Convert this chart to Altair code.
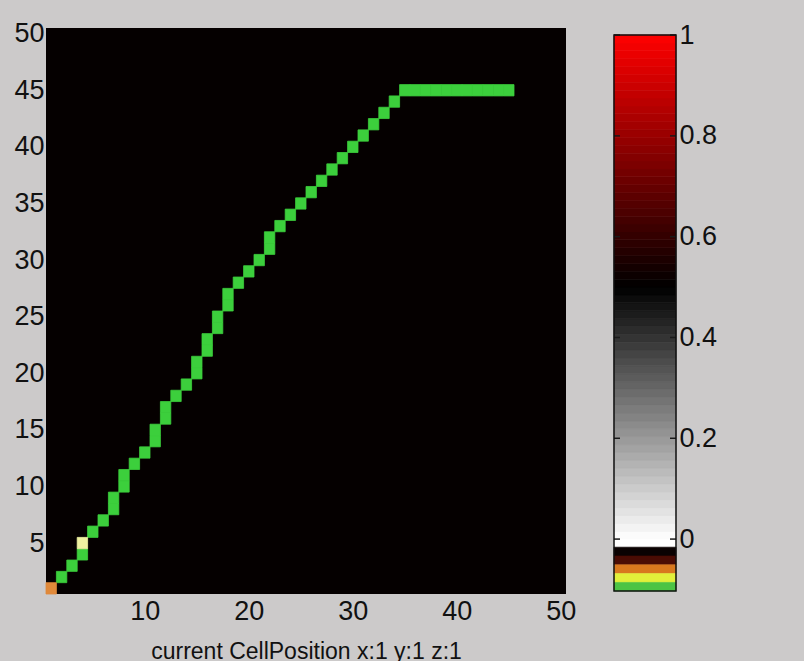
import altair as alt
import pandas as pd

# ---- data ----
path_x = [2, 3, 4, 5, 6, 7, 7, 8, 8, 9, 10, 11, 11, 12, 12, 13, 14, 15, 15, 16, 16, 17, 17,
          18, 18, 19, 20, 21, 22, 22, 23, 24, 25, 26, 27, 28, 29, 30, 31, 32, 33, 34, 35,
          36, 37, 38, 39, 40, 41, 42, 43, 44, 45]
path_y = [2, 3, 4, 6, 7, 8, 9, 10, 11, 12, 13, 14, 15, 16, 17, 18, 19, 20, 21, 22, 23, 24, 25,
          26, 27, 28, 29, 30, 31, 32, 33, 34, 35, 36, 37, 38, 39, 40, 41, 42, 43, 44, 45,
          45, 45, 45, 45, 45, 45, 45, 45, 45, 45]
start_x, start_y = [1], [1]
marker_x, marker_y = [4], [5]

x_ticks = [10, 20, 30, 40, 50]
y_ticks = [5, 10, 15, 20, 25, 30, 35, 40, 45, 50]
cb_ticks = [0, 0.2, 0.4, 0.6, 0.8, 1]

# colorbar special bands below zero
band_lo = [-0.0335, -0.051, -0.0685, -0.086, -0.103]
band_hi = [-0.016, -0.0335, -0.051, -0.0685, -0.086]
band_col = ["#0a0202", "#4a0c04", "#d8781e", "#e2f03a", "#4cc444"]

kinds = ["path", "start", "marker"]
kind_colors = ["#3ccf3c", "#e0893a", "#eef0a0"]

FONT = "Liberation Sans"
FS = 27

cells = pd.DataFrame({
    "x": path_x + start_x + marker_x,
    "y": path_y + start_y + marker_y,
    "kind": ["path"] * len(path_x) + ["start"] + ["marker"],
})

heat = alt.Chart(cells).transform_calculate(
    x0="datum.x - 0.5", x1="datum.x + 0.5", y0="datum.y - 0.5", y1="datum.y + 0.5"
).mark_rect(strokeWidth=0.8).encode(
    x=alt.X("x0:Q", scale=alt.Scale(domain=[0.5, 50.5], nice=False, zero=False),
            axis=alt.Axis(values=x_ticks, title="current CellPosition x:1 y:1 z:1",
                          ticks=False, domain=False, grid=False, labelPadding=4,
                          titlePadding=16, titleFontSize=23, labelFlush=False)),
    x2="x1:Q",
    y=alt.Y("y0:Q", scale=alt.Scale(domain=[0.5, 50.5], nice=False, zero=False),
            axis=alt.Axis(values=y_ticks, title=None, ticks=False, domain=False,
                          grid=False, labelPadding=2, labelFlush=False)),
    y2="y1:Q",
    color=alt.Color("kind:N", scale=alt.Scale(domain=kinds, range=kind_colors), legend=None),
    stroke=alt.Stroke("kind:N", scale=alt.Scale(domain=kinds, range=kind_colors), legend=None),
).properties(width=520, height=566,
             view=alt.ViewBackground(fill="#050000", strokeWidth=0))

cb_min, cb_top, cb_max = -0.103, 1.0, 1.014
ramp_scale = alt.Scale(domain=[0, 0.5, 1], range=["#ffffff", "#000000", "#ff0000"],
                       interpolate="rgb", clamp=True)
yscale = alt.Scale(domain=[cb_min, cb_max], nice=False, zero=False)

ramp = alt.Chart(alt.sequence(-0.015625, 1.0, 0.015625, as_="v")).transform_calculate(
    v2="datum.v + 0.015625", mid="datum.v + 0.0078125"
).mark_rect(strokeWidth=0.6).encode(
    y=alt.Y("v:Q", scale=yscale,
            axis=alt.Axis(orient="right", values=cb_ticks, format="~g", title=None,
                          ticks=False, domain=False, grid=False, labelPadding=3,
                          labelFlush=False)),
    y2="v2:Q",
    x=alt.value(0), x2=alt.value(62),
    color=alt.Color("mid:Q", scale=ramp_scale, legend=None),
    stroke=alt.Stroke("mid:Q", scale=ramp_scale, legend=None),
)

bands = alt.Chart(pd.DataFrame({"lo": band_lo, "hi": band_hi, "c": band_col})).mark_rect(
    strokeWidth=0.6).encode(
    y=alt.Y("lo:Q", scale=yscale), y2="hi:Q",
    x=alt.value(0), x2=alt.value(62),
    color=alt.Color("c:N", scale=None), stroke=alt.Stroke("c:N", scale=None),
)

tickdf = pd.DataFrame({"t": cb_ticks})
ticks_l = alt.Chart(tickdf).mark_rule(color="#1a1a1a", strokeWidth=1.5).encode(
    y=alt.Y("t:Q", scale=yscale), x=alt.value(0), x2=alt.value(6))
ticks_r = alt.Chart(tickdf).mark_rule(color="#1a1a1a", strokeWidth=1.5).encode(
    y=alt.Y("t:Q", scale=yscale), x=alt.value(56), x2=alt.value(62))

border = alt.Chart(pd.DataFrame({"lo": [cb_min], "hi": [cb_top]})).mark_rect(
    fill="transparent", stroke="#111111", strokeWidth=1.5).encode(
    y=alt.Y("lo:Q", scale=yscale), y2="hi:Q", x=alt.value(0), x2=alt.value(62))

cbar = alt.layer(ramp, bands, ticks_l, ticks_r, border).properties(
    width=62, height=563, view=alt.ViewBackground(strokeWidth=0))

chart = alt.hconcat(heat, cbar, spacing=37).properties(
    background="#cccaca",
    padding={"left": 13, "top": 19, "right": 87, "bottom": 0},
).configure_axis(
    labelFont=FONT, labelFontSize=FS, labelColor="#111111",
    titleFont=FONT, titleFontSize=FS, titleColor="#111111", titleFontWeight="normal",
).configure_view(stroke=None)

chart.save("out.html", embed_options={"renderer": "svg", "actions": False})
